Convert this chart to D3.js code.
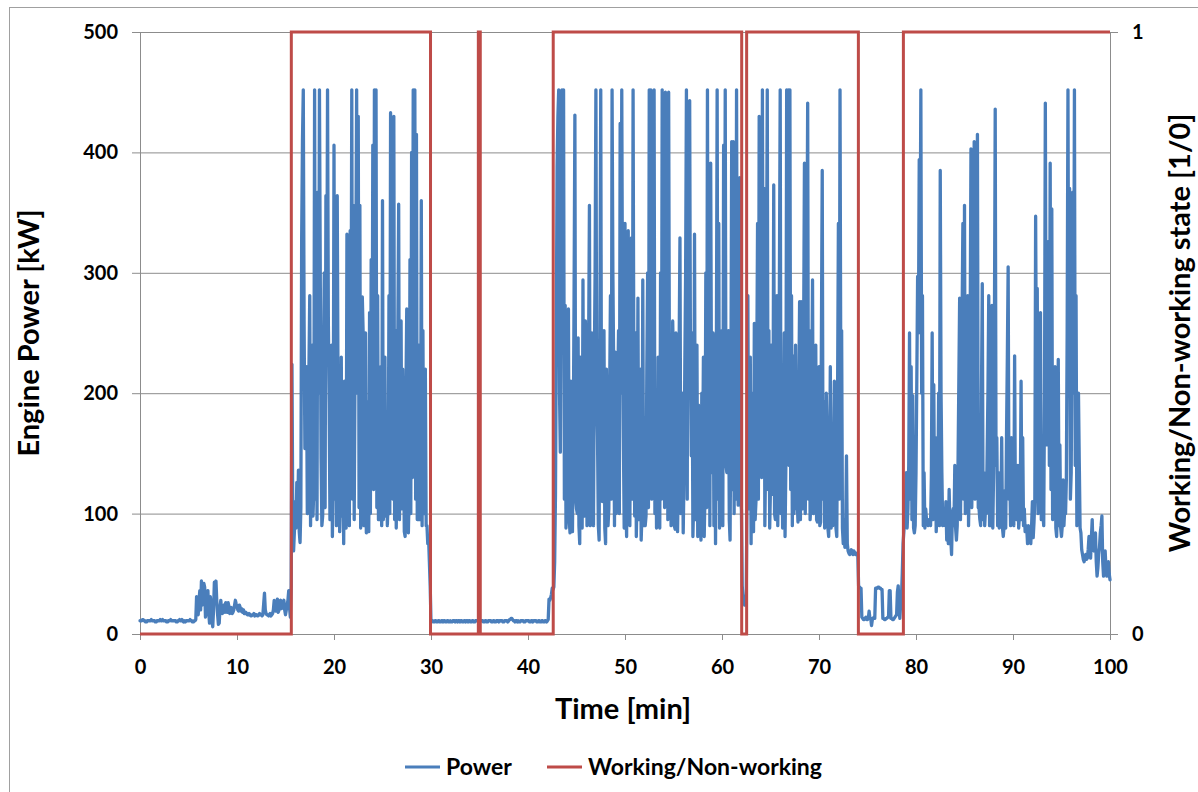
<!DOCTYPE html>
<html lang="en">
  <head>
    <meta charset="utf-8">
    <title>Engine Power / Working state</title>
    <script type="text/javascript" src="https://d3js.org/d3.v7.min.js"></script>
    <style type="text/css">
      body { margin: 0; background: #fff; }
      text { font-family: Lato, "Open Sans", sans-serif; font-weight: bold; fill: #000; }
    </style>
  </head>
  <body>
    <script type="text/javascript">
    // one sample every 5 s (12 per minute, one row per minute)
    var sampleSeconds = 5;
    var powerKw = [
      11,11,11,12,12,11,11,10,10,11,11,11,
      11,11,12,11,11,11,11,10,10,11,11,11,
      11,12,11,11,12,11,11,11,11,10,10,11,
      11,11,12,11,11,11,11,11,11,10,10,11,
      11,12,11,11,12,11,10,11,10,11,11,11,
      11,11,12,11,11,10,10,11,11,12,31,22,
      16,28,36,20,44,24,29,42,39,14,19,30,
      36,18,9,31,25,12,6,20,43,30,44,27,
      16,8,9,22,28,19,17,23,24,18,26,21,
      18,26,23,17,19,22,17,18,20,24,28,25,
      23,20,19,24,22,19,21,18,20,17,17,18,
      17,16,16,17,16,15,15,16,16,17,15,16,
      16,15,15,16,17,16,16,15,16,25,34,20,
      17,16,16,15,16,17,15,16,17,20,28,22,
      19,24,29,18,20,27,28,21,23,26,28,20,
      16,20,24,28,36,22,14,40,224,95,69,85,
      110,88,126,95,136,85,76,105,329,410,452,260,
      154,190,222,100,116,220,281,90,160,240,98,120,
      452,112,281,95,367,200,452,300,146,90,98,230,
      300,105,364,230,452,260,193,95,134,240,81,140,
      406,112,252,90,364,200,163,85,119,230,98,140,
      75,210,140,88,332,100,222,90,335,200,452,112,
      356,95,222,300,452,200,430,105,356,88,163,280,
      252,90,134,250,84,112,193,85,267,100,311,140,
      406,120,452,300,452,105,281,95,95,140,222,90,
      360,95,134,230,98,140,90,112,281,100,433,130,
      400,112,430,95,252,88,148,250,357,95,178,260,
      104,220,150,85,81,200,270,90,84,120,311,100,
      400,130,452,280,452,112,415,95,193,240,95,112,
      360,90,252,100,134,220,90,90,75,80,60,40,
      10,11,11,10,10,11,11,10,10,11,11,10,
      10,11,11,10,11,11,10,10,11,11,10,10,
      11,10,10,11,11,11,10,11,11,10,11,11,
      10,11,11,10,10,11,11,10,11,11,10,11,
      11,10,10,11,11,10,10,11,11,11,11,10,
      10,11,11,11,11,10,10,11,11,10,10,11,
      11,11,11,10,10,11,11,10,10,11,11,11,
      10,11,11,11,11,10,10,11,11,11,11,10,
      11,12,12,13,13,12,11,11,10,11,11,10,
      11,10,10,11,11,11,11,10,10,11,11,11,
      11,11,10,10,11,11,10,11,11,11,11,10,
      10,11,11,10,10,11,11,10,10,11,11,10,
      11,12,29,28,30,33,38,37,39,60,116,250,
      388,430,452,200,151,300,452,260,452,112,273,88,
      113,200,270,95,84,210,110,85,163,280,431,112,
      104,100,246,90,75,230,163,88,294,105,98,260,
      220,90,102,240,356,90,146,250,104,90,222,300,
      452,200,163,90,78,260,452,140,110,230,252,88,
      75,220,154,90,104,200,281,112,452,300,222,90,
      234,100,107,200,252,100,424,200,452,250,163,88,
      341,112,81,200,335,95,90,230,329,112,452,200,
      98,250,81,120,279,95,104,220,78,100,294,90,
      180,90,98,220,300,105,452,230,452,112,187,280,
      452,100,202,88,93,230,163,88,300,112,452,130,
      376,105,450,140,311,95,450,200,172,90,163,260,
      222,90,87,250,216,85,134,240,329,100,104,200,
      84,130,222,300,452,112,441,200,443,220,148,250,
      81,112,332,95,163,240,81,190,154,90,78,200,
      134,230,81,120,300,105,452,130,267,90,391,200,
      134,250,90,190,75,220,452,112,341,88,134,210,
      252,90,406,200,452,140,134,240,252,95,78,200,
      409,120,409,100,294,112,452,200,107,250,379,112,
      104,40,30,27,24,28,33,120,281,112,104,230,
      75,200,104,85,258,95,110,220,341,112,430,200,
      421,130,452,200,370,90,146,280,452,120,252,88,
      122,240,116,140,373,100,95,200,281,90,160,290,
      452,100,193,88,148,250,81,140,452,200,452,140,
      452,120,281,90,231,100,163,240,104,112,93,200,
      276,95,276,112,104,250,391,100,163,300,441,112,
      252,95,110,200,294,100,110,230,240,95,93,112,
      222,90,93,250,385,112,193,88,110,200,163,88,
      81,120,222,88,166,90,148,210,120,88,81,200,
      341,112,452,200,252,88,75,95,72,88,148,75,
      69,67,66,68,70,67,66,69,68,66,66,67,
      66,40,39,38,38,14,13,12,12,13,14,12,
      12,13,19,13,13,7,12,13,14,13,38,38,
      38,39,39,38,38,37,37,13,13,12,12,13,
      13,14,14,36,36,13,13,12,12,13,14,15,
      16,35,40,20,13,25,30,50,75,85,95,110,
      134,88,104,140,250,112,222,95,198,88,84,90,
      134,210,297,250,394,300,452,200,281,90,134,88,
      104,95,93,90,95,95,90,130,250,95,207,100,
      163,85,104,112,200,90,385,200,134,90,104,95,
      90,110,78,100,75,120,90,80,66,100,104,90,
      140,88,78,90,142,210,279,95,163,260,341,112,
      356,100,148,220,281,90,134,250,403,105,163,280,
      409,112,200,290,415,105,104,95,90,200,291,95,
      134,90,104,100,148,200,281,90,90,112,273,88,
      134,250,436,140,163,90,134,88,90,95,163,88,
      81,90,119,88,166,230,305,112,134,90,163,95,
      152,90,231,100,95,95,140,88,98,112,210,95,
      163,90,104,85,90,88,75,90,84,85,75,90,
      110,80,93,112,347,200,287,100,163,210,267,95,
      104,100,90,200,441,200,157,250,326,140,391,120,
      353,95,136,140,222,88,81,112,228,90,157,88,
      81,90,128,90,104,100,128,250,452,200,370,112,
      134,250,367,200,452,140,281,90,163,200,142,88,
      84,70,66,62,60,64,66,62,63,70,81,66,
      63,80,95,70,69,75,84,60,48,55,66,72,
      84,90,98,60,48,62,69,55,48,52,60,50,
      45
    ];

    // working / non-working switch times [min] and the state that starts there
    var stateTimes = [0, 15.6, 29.95, 34.88, 35.08, 42.6, 62.03, 62.54, 74.06, 78.7, 100];
    var stateValues = [0, 1, 0, 1, 0, 1, 0, 1, 0, 1, 1];

    var xTicks = [0, 10, 20, 30, 40, 50, 60, 70, 80, 90, 100];
    var powerTicks = [0, 100, 200, 300, 400, 500];
    var stateTicks = [0, 1];
    var legendNames = ["Power", "Working/Non-working"];

    var w = 1198, h = 792;
    var margin = {top: 32, right: 88, bottom: 158, left: 140};
    var pw = w - margin.left - margin.right;
    var ph = h - margin.top - margin.bottom;
    var blue = "#4A7EBB", red = "#BE4B48", gridCol = "#8c8c8c";

    var svg = d3.select("body").append("svg")
                .attr("width", w)
                .attr("height", h);

    // outer chart border (runs off the picture on right / bottom)
    svg.append("rect")
       .attr("x", 9.5).attr("y", 7.5)
       .attr("width", w + 20).attr("height", h + 20)
       .attr("fill", "none")
       .attr("stroke", "#a0a0a0")
       .attr("stroke-width", 1);

    var g = svg.append("g")
               .attr("transform", "translate(" + margin.left + "," + margin.top + ")");

    var x = d3.scaleLinear().domain([0, 100]).range([0, pw]);
    var yPow = d3.scaleLinear().domain([0, 500]).range([ph, 0]);
    var yState = d3.scaleLinear().domain([0, 1]).range([ph, 0]);

    // grid
    g.append("g")
     .attr("class", "grid")
     .call(d3.axisLeft(yPow).tickValues(powerTicks).tickSize(-pw).tickFormat(""))
     .call(function(s){ s.select(".domain").remove(); })
     .selectAll("line")
       .attr("stroke", gridCol);

    // left axis
    var axL = g.append("g")
               .call(d3.axisLeft(yPow).tickValues(powerTicks).tickSize(8).tickPadding(14));
    axL.selectAll("text").style("font-size", "20px");

    // right axis
    var axR = g.append("g")
               .attr("transform", "translate(" + pw + ",0)")
               .call(d3.axisRight(yState).tickValues(stateTicks).tickFormat(d3.format("d"))
                       .tickSize(8).tickPadding(14));
    axR.selectAll("text").style("font-size", "20px");

    // bottom axis
    var axB = g.append("g")
               .attr("transform", "translate(0," + ph + ")")
               .call(d3.axisBottom(x).tickValues(xTicks).tickSize(6).tickPadding(20));
    axB.selectAll("text").style("font-size", "20px");

    [axL, axR, axB].forEach(function(a){
      a.selectAll(".domain, line").attr("stroke", gridCol);
    });

    // series
    var powerLine = d3.line()
        .x(function(d, i) { return x(i * sampleSeconds / 60); })
        .y(function(d) { return yPow(d); });

    g.append("path")
     .datum(powerKw)
     .attr("fill", "none")
     .attr("stroke", blue)
     .attr("stroke-width", 3.3)
     .attr("stroke-linejoin", "round")
     .attr("stroke-linecap", "round")
     .attr("d", powerLine);

    var stateLine = d3.line()
        .curve(d3.curveStepAfter)
        .x(function(d, i) { return x(stateTimes[i]); })
        .y(function(d) { return yState(d); });

    g.append("path")
     .datum(stateValues)
     .attr("fill", "none")
     .attr("stroke", red)
     .attr("stroke-width", 3)
     .attr("d", stateLine);

    // axis titles
    svg.append("text")
       .attr("transform", "translate(39," + (margin.top + ph / 2) + ") rotate(-90)")
       .attr("text-anchor", "middle")
       .style("font-size", "29px")
       .text("Engine Power [kW]");

    svg.append("text")
       .attr("transform", "translate(1190," + (margin.top + ph / 2) + ") rotate(-90)")
       .attr("text-anchor", "middle")
       .style("font-size", "29px")
       .text("Working/Non-working state [1/0]");

    svg.append("text")
       .attr("x", margin.left + x(50) - 2)
       .attr("y", 719)
       .attr("text-anchor", "middle")
       .style("font-size", "29px")
       .text("Time [min]");

    // legend
    var legX = [405, 547];
    var leg = svg.selectAll(".leg")
                 .data(legendNames)
                 .enter()
                 .append("g")
                 .attr("class", "leg")
                 .attr("transform", function(d, i){ return "translate(" + legX[i] + ",767)"; });
    leg.append("line")
       .attr("x1", 0).attr("x2", 35)
       .attr("stroke", function(d, i){ return i === 0 ? blue : red; })
       .attr("stroke-width", 3);
    leg.append("text")
       .attr("x", 41)
       .attr("y", 8)
       .style("font-size", "23px")
       .text(function(d){ return d; });
    </script>
  </body>
</html>
